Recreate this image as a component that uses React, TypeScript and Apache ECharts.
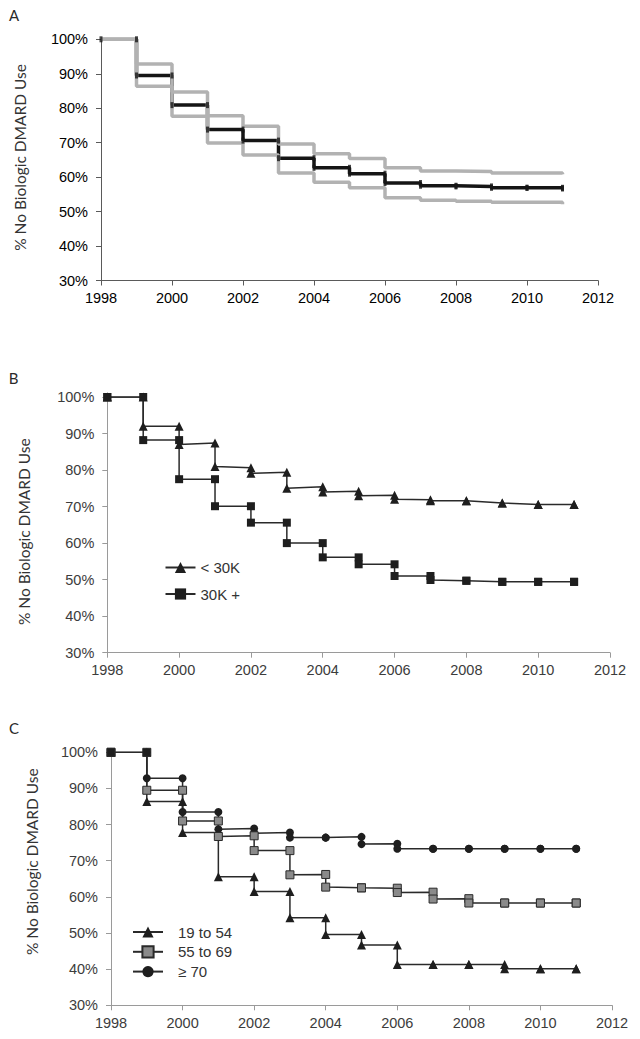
import React, { useEffect, useRef } from "react";
import * as echarts from "echarts";

// ---------- data ----------
const years = [1998, 1999, 2000, 2001, 2002, 2003, 2004, 2005, 2006, 2007, 2008, 2009, 2010, 2011];

// Panel A: overall survival (level held from each year to the next)
const meanA = [100, 89.5, 80.9, 73.8, 70.6, 65.5, 62.7, 61.0, 58.3, 57.5, 57.3, 56.9, 56.9, 56.7];
const upperA = [100, 92.8, 84.7, 77.8, 74.8, 69.6, 66.8, 65.4, 62.7, 61.8, 61.6, 61.2, 61.2, 60.8];
const lowerA = [100, 86.4, 77.7, 69.9, 66.4, 61.2, 58.5, 56.9, 54.0, 53.3, 53.0, 52.7, 52.7, 52.1];

// Panel B: by income (value on arrival at each year, value after the drop)
const under30kTop = [100, 100, 92.0, 87.4, 80.6, 79.4, 75.4, 74.2, 73.1, 71.9, 71.6, 71.0, 70.6, 70.6];
const under30kBottom = [100, 92.0, 87.0, 81.0, 79.1, 75.0, 74.0, 73.0, 72.0, 71.6, 71.6, 71.0, 70.6, 70.6];
const over30kTop = [100, 100, 88.2, 77.5, 70.1, 65.6, 60.0, 56.1, 54.2, 51.0, 49.7, 49.4, 49.4, 49.4];
const over30kBottom = [100, 88.2, 77.5, 70.1, 65.6, 60.0, 56.1, 54.2, 51.0, 49.9, 49.7, 49.4, 49.4, 49.4];

// Panel C: by age
const age19Top = [100, 100, 86.4, 77.8, 65.6, 61.5, 54.2, 49.6, 46.7, 41.3, 41.3, 41.3, 40.1, 40.1];
const age19Bottom = [100, 86.4, 77.8, 65.6, 61.5, 54.2, 49.6, 46.7, 41.3, 41.3, 41.3, 40.1, 40.1, 40.1];
const age55Top = [100, 100, 89.5, 81.0, 76.9, 72.8, 66.2, 62.5, 62.4, 61.3, 59.5, 58.3, 58.3, 58.3];
const age55Bottom = [100, 89.5, 81.0, 76.7, 72.8, 66.1, 62.7, 62.5, 61.2, 59.4, 58.3, 58.3, 58.3, 58.3];
const age70Top = [100, 100, 92.8, 83.5, 78.9, 77.8, 76.4, 76.6, 74.7, 73.3, 73.3, 73.3, 73.3, 73.3];
const age70Bottom = [100, 92.8, 83.5, 78.7, 77.6, 76.4, 76.4, 74.6, 73.3, 73.3, 73.3, 73.3, 73.3, 73.3];

const legendB = ["< 30K", "30K +"];
const legendC = ["19 to 54", "55 to 69", "≥ 70"];
const yTitle = "% No Biologic DMARD Use";
const panelLetters = ["A", "B", "C"];

// ---------- helpers ----------
const stepData = (vals: number[]) => years.map((y, i) => [y, vals[i]]);
const pairData = (top: number[], bottom: number[]) =>
  years.flatMap((y, i) => [[y, top[i]], [y, bottom[i]]]);
const markerData = (vals: number[]) =>
  years.flatMap((y, i) => (i === 0 ? [[y, vals[0]]] : [[y, vals[i - 1]], [y, vals[i]]]));

const TICK_FONT = "Liberation Sans, Arial, sans-serif";
const TITLE_FONT = "Lato, Noto Sans, sans-serif";

function xAxisFor(gridIndex: number, dark: boolean) {
  return {
    type: "value",
    gridIndex,
    min: 1998,
    max: 2012,
    interval: 2,
    splitLine: { show: false },
    axisLine: { show: true, lineStyle: { color: dark ? "#5a5a5a" : "#9a9a9a", width: 1 } },
    axisTick: { show: true, length: 5, lineStyle: { color: dark ? "#5a5a5a" : "#9a9a9a" } },
    axisLabel: {
      formatter: (v: number) => String(v),
      fontFamily: TICK_FONT,
      fontSize: 14.5,
      color: dark ? "#000" : "#3c3c3c",
      margin: 10,
    },
  };
}
function yAxisFor(gridIndex: number, dark: boolean) {
  return {
    type: "value",
    gridIndex,
    min: 30,
    max: 100,
    interval: 10,
    splitLine: { show: false },
    axisLine: { show: true, lineStyle: { color: dark ? "#5a5a5a" : "#9a9a9a", width: 1 } },
    axisTick: { show: true, length: 5, lineStyle: { color: dark ? "#5a5a5a" : "#9a9a9a" } },
    axisLabel: {
      formatter: "{value}%",
      fontFamily: TICK_FONT,
      fontSize: 14.5,
      color: dark ? "#000" : "#3c3c3c",
      margin: 13,
    },
  };
}

export default function App() {
  const ref = useRef<HTMLDivElement>(null);

  useEffect(() => {
    if (!ref.current) return;
    const chart = echarts.init(ref.current, undefined, { renderer: "svg" });

    const lineB = { color: "#2a2a2a", width: 1.5 };
    const darkFill = { color: "#1e1e1e" };

    const option: any = {
      animation: false,
      backgroundColor: "#ffffff",
      grid: [
        { left: 101, top: 39.3, width: 497, height: 241.2 },
        { left: 107.3, top: 397, width: 502.7, height: 255.7 },
        { left: 111, top: 752.3, width: 501, height: 253 },
      ],
      xAxis: [xAxisFor(0, true), xAxisFor(1, false), xAxisFor(2, false)],
      yAxis: [yAxisFor(0, true), yAxisFor(1, false), yAxisFor(2, false)],
      legend: [
        {
          data: legendB,
          orient: "vertical",
          left: 164.5,
          top: 560,
          padding: 0,
          itemWidth: 30,
          itemHeight: 14,
          itemGap: 11.5,
          selectedMode: false,
          textStyle: { fontFamily: TICK_FONT, fontSize: 15, color: "#333" },
        },
        {
          data: legendC,
          orient: "vertical",
          left: 132,
          top: 924.5,
          padding: 0,
          itemWidth: 30,
          itemHeight: 14,
          itemGap: 4.8,
          selectedMode: false,
          textStyle: { fontFamily: TICK_FONT, fontSize: 15, color: "#333", padding: [0, 0, 0, 10] },
        },
      ],
      series: [
        // ---- Panel A ----
        {
          name: "mean",
          type: "line",
          xAxisIndex: 0,
          yAxisIndex: 0,
          step: "end",
          data: stepData(meanA),
          showSymbol: false,
          lineStyle: { color: "#151515", width: 3.5 },
          z: 2,
        },
        {
          name: "upper",
          type: "line",
          xAxisIndex: 0,
          yAxisIndex: 0,
          step: "end",
          data: stepData(upperA),
          showSymbol: false,
          lineStyle: { color: "#b2b2b2", width: 3.5 },
          z: 3,
        },
        {
          name: "lower",
          type: "line",
          xAxisIndex: 0,
          yAxisIndex: 0,
          step: "end",
          data: stepData(lowerA),
          showSymbol: false,
          lineStyle: { color: "#b2b2b2", width: 3.5 },
          z: 3,
        },
        {
          name: "meanMarks",
          type: "scatter",
          xAxisIndex: 0,
          yAxisIndex: 0,
          data: markerData(meanA),
          symbol: "rect",
          symbolSize: [3, 6],
          itemStyle: { color: "#151515" },
          z: 4,
        },
        // ---- Panel B ----
        {
          name: legendB[0],
          type: "line",
          xAxisIndex: 1,
          yAxisIndex: 1,
          data: pairData(under30kTop, under30kBottom),
          symbol: "triangle",
          symbolSize: 9,
          showAllSymbol: true,
          lineStyle: lineB,
          itemStyle: darkFill,
        },
        {
          name: legendB[1],
          type: "line",
          xAxisIndex: 1,
          yAxisIndex: 1,
          data: pairData(over30kTop, over30kBottom),
          symbol: "rect",
          symbolSize: 8,
          showAllSymbol: true,
          lineStyle: lineB,
          itemStyle: darkFill,
        },
        // ---- Panel C ----
        {
          name: legendC[0],
          type: "line",
          xAxisIndex: 2,
          yAxisIndex: 2,
          data: pairData(age19Top, age19Bottom),
          symbol: "triangle",
          symbolSize: 9,
          showAllSymbol: true,
          lineStyle: lineB,
          itemStyle: darkFill,
        },
        {
          name: legendC[2],
          type: "line",
          xAxisIndex: 2,
          yAxisIndex: 2,
          data: pairData(age70Top, age70Bottom),
          symbol: "circle",
          symbolSize: 8,
          showAllSymbol: true,
          lineStyle: lineB,
          itemStyle: darkFill,
        },
        {
          name: legendC[1],
          type: "line",
          xAxisIndex: 2,
          yAxisIndex: 2,
          data: pairData(age55Top, age55Bottom).map((p) =>
            p[1] === 100 ? { value: p, itemStyle: { color: "#1e1e1e" } } : p
          ),
          symbol: "rect",
          symbolSize: 8,
          showAllSymbol: true,
          lineStyle: lineB,
          itemStyle: { color: "#8a8a8a", borderColor: "#2a2a2a", borderWidth: 1 },
        },
      ],
      graphic: [
        ...[
          { x: 14, y: 15 },
          { x: 13.5, y: 377.7 },
          { x: 14, y: 728 },
        ].map((p, i) => ({
          type: "text",
          x: p.x,
          y: p.y,
          style: {
            text: panelLetters[i],
            fontFamily: TITLE_FONT,
            fontSize: 15,
            fill: "#2a2a2a",
            align: "center",
            verticalAlign: "middle",
          },
        })),
        ...[
          { x: 20.4, y: 157.5 },
          { x: 23.7, y: 531.7 },
          { x: 31.8, y: 861.7 },
        ].map((p) => ({
          type: "text",
          x: p.x,
          y: p.y,
          rotation: Math.PI / 2,
          style: {
            text: yTitle,
            fontFamily: TITLE_FONT,
            fontSize: 15.5,
            fill: "#333",
            align: "center",
            verticalAlign: "middle",
          },
        })),
      ],
    };

    chart.setOption(option);
    return () => chart.dispose();
  }, []);

  return (
    <div
      ref={ref}
      style={{ position: "absolute", left: 0, top: 0, width: 640, height: 1039, background: "#fff" }}
    />
  );
}
